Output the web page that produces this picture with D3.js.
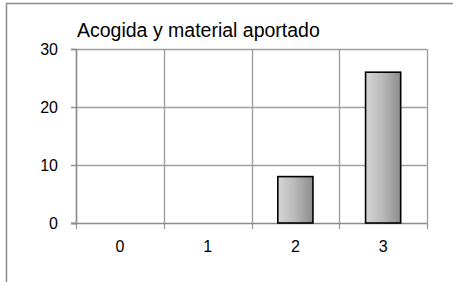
<!DOCTYPE html>
<html>
<head>
<meta charset="utf-8">
<script src="https://cdn.jsdelivr.net/npm/d3@7"></script>
<style>
  body { margin: 0; background: #fff; }
  svg { display: block; }
</style>
</head>
<body>
<div id="chart"></div>
<script>
// Chart data
var categories = ["0", "1", "2", "3"];
var values = [0, 0, 8, 26];
var yTicks = [0, 10, 20, 30];
var chartTitle = "Acogida y material aportado";

// SVG area
var svgWidth = 453;
var svgHeight = 282;

// Plot area margins
var margin = { top: 49, right: 26, bottom: 59, left: 76 };
var plotWidth = svgWidth - margin.left - margin.right;
var plotHeight = svgHeight - margin.top - margin.bottom;

var svg = d3.select("#chart")
  .append("svg")
  .attr("width", svgWidth)
  .attr("height", svgHeight);

// Outer frame of the chart
svg.append("path")
  .attr("d", "M6.5," + svgHeight + " V3.5 H" + svgWidth)
  .attr("fill", "none")
  .attr("stroke", "#8c8c8c")
  .attr("stroke-width", 1.5);

// Bar gradient
var grad = svg.append("defs").append("linearGradient")
  .attr("id", "barGrad")
  .attr("x1", "0%").attr("x2", "100%")
  .attr("y1", "0%").attr("y2", "0%");
grad.append("stop").attr("offset", "0%").attr("stop-color", "#d6d6d6");
grad.append("stop").attr("offset", "45%").attr("stop-color", "#bcbcbc");
grad.append("stop").attr("offset", "100%").attr("stop-color", "#8c8c8c");

var g = svg.append("g")
  .attr("transform", `translate(${margin.left},${margin.top})`);

// Scales
var x = d3.scaleBand()
  .domain(categories)
  .range([0, plotWidth])
  .paddingInner(0)
  .paddingOuter(0);

var y = d3.scaleLinear()
  .domain([0, 30])
  .range([plotHeight, 0]);

// Horizontal gridlines
g.append("g")
  .selectAll("line")
  .data(yTicks.slice(1))
  .enter()
  .append("line")
  .attr("x1", 0)
  .attr("x2", plotWidth)
  .attr("y1", d => Math.round(y(d)) + 0.5)
  .attr("y2", d => Math.round(y(d)) + 0.5)
  .attr("stroke", "#a0a0a0")
  .attr("stroke-width", 1.4);

// Vertical gridlines at category boundaries
var bounds = categories.map(c => x(c)).concat([plotWidth]);
g.append("g")
  .selectAll("line")
  .data(bounds)
  .enter()
  .append("line")
  .attr("x1", d => Math.round(d) + 0.5)
  .attr("x2", d => Math.round(d) + 0.5)
  .attr("y1", 0)
  .attr("y2", plotHeight + 6)
  .attr("stroke", "#a0a0a0")
  .attr("stroke-width", 1.4);

// Y axis
var yAxis = g.append("g")
  .call(d3.axisLeft(y).tickValues(yTicks).tickSize(5).tickPadding(13));
yAxis.select(".domain")
  .attr("stroke", "#8c8c8c")
  .attr("stroke-width", 1.4);
yAxis.selectAll(".tick line")
  .attr("stroke", "#8c8c8c")
  .attr("stroke-width", 1.4);
yAxis.selectAll("text")
  .attr("fill", "#000")
  .style("font-family", "Liberation Sans, Arial, sans-serif")
  .style("font-size", "16px");

// X axis line at 0
g.append("line")
  .attr("x1", -5)
  .attr("x2", plotWidth)
  .attr("y1", Math.round(y(0)) + 0.5)
  .attr("y2", Math.round(y(0)) + 0.5)
  .attr("stroke", "#8c8c8c")
  .attr("stroke-width", 1.4);

// X labels
g.append("g")
  .selectAll("text")
  .data(categories)
  .enter()
  .append("text")
  .attr("x", d => x(d) + x.bandwidth() / 2)
  .attr("y", plotHeight + 29)
  .attr("text-anchor", "middle")
  .style("font-family", "Liberation Sans, Arial, sans-serif")
  .style("font-size", "16px")
  .text(d => d);

// Bars
var barWidth = x.bandwidth() * 0.4;
g.append("g")
  .selectAll("rect")
  .data(values.map((v, i) => ({ cat: categories[i], value: v })).filter(d => d.value > 0))
  .enter()
  .append("rect")
  .attr("x", d => x(d.cat) + (x.bandwidth() - barWidth) / 2)
  .attr("y", d => y(d.value))
  .attr("width", barWidth)
  .attr("height", d => y(0) - y(d.value))
  .attr("fill", "url(#barGrad)")
  .attr("stroke", "#000")
  .attr("stroke-width", 1.6);

// Title
svg.append("text")
  .attr("x", 77)
  .attr("y", 37)
  .style("font-family", "Liberation Sans, Arial, sans-serif")
  .style("font-size", "19.5px")
  .text(chartTitle);
</script>
</body>
</html>
